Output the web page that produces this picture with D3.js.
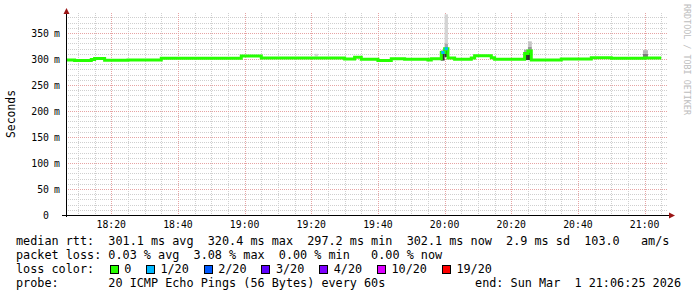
<!DOCTYPE html>
<html>
<head>
<meta charset="utf-8">
<script src="https://cdn.jsdelivr.net/npm/d3@7"></script>
<style>
  body { margin: 0; background: #fff; }
  text { font-family: "DejaVu Sans Mono", monospace; }
</style>
</head>
<body>
<svg id="chart" width="697" height="297"></svg>
<script>
// median rtt (ms) per step, last entry closes the line
const medianTimes = ["18:06:25","18:09","18:14","18:15","18:18","18:25","18:35","18:59","19:05","19:30","19:33","19:35",
  "19:40","19:44","19:48","19:55","19:56","19:59","20:00","20:01","20:03","20:08","20:09","20:14","20:15","20:24",
  "20:25","20:26","20:35","20:44","20:50","21:00","21:05"];
const medianMs = [298.1,297.1,299,301,297.5,298,301.3,305.9,302,300,303.3,299.4,
  297.3,300.6,299.4,298,300.6,312.5,319.8,302,299.4,302,306.3,302.5,299.4,310.6,
  315.4,298,300,302.5,301.3,302.1,302.1];
// lost pings out of 20 for each step
const medianLoss = [0,0,0,0,0,0,0,0,0,0,0,0,
  0,0,0,0,0,1,1,0,0,0,0,0,0,0,
  0,0,0,0,0,0,0];

// smoke bands: time span, rtt range (ms) and how many of the 20 pings fell in it
const smokeStart = ["19:21","19:58:50","20:00","20:00","20:00","20:23:50","20:23:50","20:25","20:25","20:25","20:59:30","20:59:30"];
const smokeEnd   = ["19:22","20:00","20:01","20:01","20:01","20:25","20:25","20:26:10","20:26:10","20:26:10","21:01","21:01"];
const smokeLow   = [305, 297, 304, 317, 330, 298, 312, 298, 313, 324, 304, 310];
const smokeHigh  = [310, 316, 317, 330, 386, 312, 318, 313, 324, 334, 310, 317];
const smokeCount = [1, 12, 12, 4, 1, 12, 4, 12, 5, 2, 7, 3];

const lossSteps  = [0, 1, 2, 3, 4, 10, 19];
const lossLabels = ["0", "1/20", "2/20", "3/20", "4/20", "10/20", "19/20"];
const lossColors = ["#26ff00", "#00b8ff", "#0059ff", "#5e00ff", "#7e00ff", "#dd00ff", "#ff0000"];

const yTicks = [0, 50, 100, 150, 200, 250, 300, 350];

const legendRows = [
  "median rtt:  301.1 ms avg  320.4 ms max  297.2 ms min  302.1 ms now  2.9 ms sd  103.0   am/s",
  "packet loss: 0.03 % avg  3.08 % max  0.00 % min   0.00 % now",
  "loss color:",
  "probe:       20 ICMP Echo Pings (56 Bytes) every 60s"
];
const endText = "end: Sun Mar  1 21:06:25 2026";

const toDate = s => {
  const [h, m, sec = 0] = s.split(":").map(Number);
  return new Date(2026, 2, 1, h, m, sec);
};

const plot = { left: 66, right: 666, top: 13, bottom: 215 };
const svg = d3.select("#chart");

svg.append("rect").attr("width", 697).attr("height", 297).attr("fill", "#fff");

const x = d3.scaleTime()
  .domain([toDate("18:06:25"), toDate("21:06:25")])
  .range([plot.left, plot.right]);
const y = d3.scaleLinear()
  .domain([0, 388.5])
  .range([plot.bottom, plot.top]);

const crisp = v => Math.round(v) + 0.5;

// grid
const grid = svg.append("g").attr("fill", "none").attr("stroke-dasharray", "1,1");
const minorY = d3.range(10, 390, 10).filter(v => v % 50 !== 0);
const majorY = d3.range(50, 390, 50);
const minorX = d3.timeMinute.every(5).range(x.domain()[0], x.domain()[1]).filter(d => d.getMinutes() % 20 !== 0);
const majorX = d3.timeMinute.every(20).range(x.domain()[0], x.domain()[1]);

grid.selectAll(".gy").data(minorY).join("line")
  .attr("x1", plot.left).attr("x2", plot.right + 2)
  .attr("y1", d => crisp(y(d))).attr("y2", d => crisp(y(d)))
  .attr("stroke", "#cfcfcf");
grid.selectAll(".gx").data(minorX).join("line")
  .attr("y1", plot.top).attr("y2", plot.bottom)
  .attr("x1", d => crisp(x(d))).attr("x2", d => crisp(x(d)))
  .attr("stroke", "#cfcfcf");
grid.selectAll(".my").data(majorY).join("line")
  .attr("x1", plot.left).attr("x2", plot.right + 2)
  .attr("y1", d => crisp(y(d))).attr("y2", d => crisp(y(d)))
  .attr("stroke", "#e6a3a3");
grid.selectAll(".mx").data(majorX).join("line")
  .attr("y1", plot.top).attr("y2", plot.bottom)
  .attr("x1", d => crisp(x(d))).attr("x2", d => crisp(x(d)))
  .attr("stroke", "#e6a3a3");

// smoke
const shade = d3.scaleLinear().domain([1, 12]).range([212, 45]).clamp(true);
svg.append("g").selectAll("rect")
  .data(smokeLow.map((lo, i) => ({ t0: toDate(smokeStart[i]), t1: toDate(smokeEnd[i]), lo, hi: smokeHigh[i], n: smokeCount[i] })))
  .join("rect")
  .attr("x", d => x(d.t0)).attr("width", d => x(d.t1) - x(d.t0))
  .attr("y", d => y(d.hi)).attr("height", d => y(d.lo) - y(d.hi))
  .attr("fill", d => { const g = Math.round(shade(d.n)); return d3.rgb(g, g, g); });

// median line
const medianData = medianTimes.map((t, i) => ({ t: toDate(t), v: medianMs[i], loss: medianLoss[i] }));
const lossColor = n => {
  let c = lossColors[0];
  lossSteps.forEach((s, i) => { if (n >= s) c = lossColors[i]; });
  return c;
};
const line = d3.line().x(d => x(d.t)).y(d => y(d.v)).curve(d3.curveStepAfter);

svg.append("path")
  .datum(medianData)
  .attr("d", line)
  .attr("fill", "none")
  .attr("stroke", lossColors[0])
  .attr("stroke-width", 3);

svg.append("g").selectAll("line")
  .data(medianData.slice(0, -1).map((d, i) => ({ ...d, t1: medianData[i + 1].t })).filter(d => d.loss > 0))
  .join("line")
  .attr("x1", d => x(d.t)).attr("x2", d => x(d.t1))
  .attr("y1", d => y(d.v)).attr("y2", d => y(d.v))
  .attr("stroke", d => lossColor(d.loss))
  .attr("stroke-width", 3);

// axes
const axisG = svg.append("g");
axisG.append("line")
  .attr("x1", plot.left - 4).attr("x2", plot.right + 3)
  .attr("y1", crisp(y(0))).attr("y2", crisp(y(0)))
  .attr("stroke", "#000");
axisG.append("line")
  .attr("x1", crisp(plot.left)).attr("x2", crisp(plot.left))
  .attr("y1", plot.bottom + 2).attr("y2", plot.top - 1)
  .attr("stroke", "#000");
axisG.append("path")
  .attr("d", `M${plot.left + 0.5},${plot.top - 5} L${plot.left - 2.5},${plot.top + 1} L${plot.left + 3.5},${plot.top + 1} Z`)
  .attr("fill", "#9a1515");
axisG.append("path")
  .attr("d", `M${plot.right + 9},${plot.bottom + 0.5} L${plot.right + 3},${plot.bottom - 2.5} L${plot.right + 3},${plot.bottom + 3.5} Z`)
  .attr("fill", "#9a1515");

// y labels (number and unit kept as separate texts, like rrdtool places them)
const yl = svg.append("g").attr("font-size", "9.8px").attr("fill", "#000").style("opacity", 0.99);
yl.selectAll(".num").data(yTicks).join("text")
  .attr("x", 49).attr("y", d => y(d) + 3.6)
  .attr("text-anchor", "end")
  .text(d => d);
yl.selectAll(".unit").data(yTicks.filter(d => d > 0)).join("text")
  .attr("x", 60).attr("y", d => y(d) + 3.6)
  .attr("text-anchor", "end")
  .text("m");

// x labels
svg.append("g").attr("font-size", "9.8px").attr("fill", "#000")
  .selectAll("text").data(majorX).join("text")
  .attr("x", d => x(d)).attr("y", 227.5)
  .attr("text-anchor", "middle")
  .text(d3.timeFormat("%H:%M"));

// axis title
svg.append("text")
  .attr("transform", `translate(15,${(plot.top + plot.bottom) / 2}) rotate(-90)`)
  .attr("text-anchor", "middle")
  .attr("font-size", "11.4px")
  .text("Seconds");

// watermark
svg.append("text")
  .attr("transform", "translate(684,4) rotate(90)")
  .attr("font-size", "8.4px")
  .attr("fill", "#bdbdbd")
  .text("RRDTOOL / TOBI OETIKER");

// legend
const leg = svg.append("g").attr("font-size", "11.8px").attr("fill", "#000");
legendRows.forEach((r, i) => {
  leg.append("text")
    .attr("x", 16).attr("y", 245 + i * 14)
    .attr("xml:space", "preserve")
    .style("white-space", "pre")
    .text(r);
});
leg.append("text")
  .attr("x", 681).attr("y", 287)
  .attr("text-anchor", "end")
  .attr("xml:space", "preserve")
  .style("white-space", "pre")
  .text(endText);

const cw = 7.22;
let col = 13;
lossLabels.forEach((lab, i) => {
  const bx = 16 + col * cw;
  leg.append("rect")
    .attr("x", Math.round(bx) + 0.5).attr("y", 265.5)
    .attr("width", 8).attr("height", 8)
    .attr("fill", lossColors[i]).attr("stroke", "#000");
  leg.append("text")
    .attr("x", bx + 2 * cw).attr("y", 273)
    .text(lab);
  col += 2 + lab.length + 2;
});
</script>
</body>
</html>
